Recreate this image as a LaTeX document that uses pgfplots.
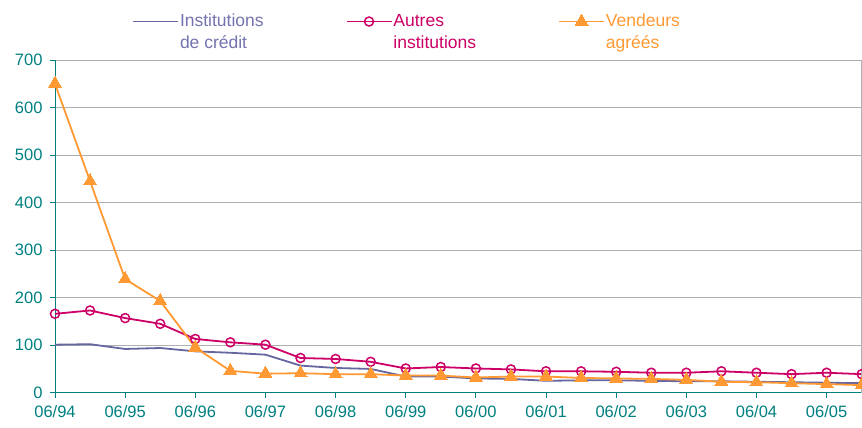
\documentclass[border=0pt]{standalone}
\usepackage{fontspec}
\setmainfont{Liberation Sans}
\usepackage{pgfplots}
\pgfplotsset{compat=1.18}
\definecolor{tealax}{RGB}{0,128,128}
\definecolor{instc}{RGB}{102,102,160}
\definecolor{instt}{RGB}{115,115,175}
\definecolor{autc}{RGB}{204,0,102}
\definecolor{vendc}{RGB}{255,153,51}
\definecolor{gridc}{RGB}{175,175,175}
\begin{document}
\begin{tikzpicture}
\useasboundingbox (0,0) rectangle (862pt,428pt);
\begin{axis}[
  at={(55pt,35.3pt)}, anchor=south west,
  scale only axis, width=806.7pt, height=332.7pt,
  xmin=0, xmax=23, ymin=0, ymax=700,
  axis lines=left,
  axis line style={-, tealax, line width=1pt},
  xtick={0,2,...,22},
  xticklabels={06/94,06/95,06/96,06/97,06/98,06/99,06/00,06/01,06/02,06/03,06/04,06/05},
  ytick={0,100,...,700},
  tick align=outside,
  major tick length=5pt,
  tick style={tealax, line width=0.8pt},
  ymajorgrids,
  grid style={gridc, line width=0.8pt},
  /pgf/number format/assume math mode=true,
  ticklabel style={font=\fontsize{16.5}{19}\selectfont, text=tealax},
  xticklabel style={yshift=-4pt},
  yticklabel style={xshift=-4pt},
  clip=false,
  legend columns=3,
  legend cell align=left,
  legend style={at={(axis description cs:0,1)}, anchor=north west, xshift=77pt, yshift=47pt,
    draw=none, fill=none, inner sep=0pt,
    font=\fontsize{17.5}{21.5}\selectfont,
    nodes={inner sep=1pt},
    /tikz/every even column/.append style={column sep=81pt}},
  legend image code/.code={\draw[#1, mark repeat=2, mark phase=2] plot coordinates {(0pt,10.5pt) (22.5pt,10.5pt) (45pt,10.5pt)};},
]
\addplot[instc, line width=1.8pt, mark=none] coordinates {
(0,101)(1,102)(2,92)(3,94)(4,87)(5,84)(6,80)(7,57)(8,52)(9,50)(10,34)(11,34)
(12,30)(13,29)(14,25)(15,26)(16,26)(17,25)(18,24)(19,24)(20,23)(21,22)(22,21)(23,20)};
\addlegendentry[text=instt, align=left]{Institutions\\de crédit}
\addplot[autc, line width=1.8pt, mark=o, mark size=4.5pt, mark options={line width=1.5pt, fill=white}] coordinates {
(0,166)(1,173)(2,157)(3,145)(4,113)(5,106)(6,101)(7,73)(8,71)(9,65)(10,51)(11,54)
(12,51)(13,49)(14,45)(15,45)(16,44)(17,42)(18,42)(19,45)(20,42)(21,39)(22,42)(23,39)};
\addlegendentry[text=autc, align=left]{Autres\\institutions}
\addplot[vendc, line width=1.8pt, mark=triangle*, mark size=7.5pt, mark options={fill=vendc, line width=0pt}] coordinates {
(0,650)(1,445)(2,239)(3,193)(4,95)(5,46)(6,40)(7,41)(8,39)(9,39)(10,36)(11,36)
(12,32)(13,34)(14,34)(15,31)(16,30)(17,29)(18,27)(19,23)(20,22)(21,20)(22,18)(23,16)};
\addlegendentry[text=vendc, align=left]{Vendeurs\\agréés}
\draw[gridc, line width=0.8pt] (rel axis cs:1,0) -- (rel axis cs:1,1);
\end{axis}
\end{tikzpicture}
\end{document}
